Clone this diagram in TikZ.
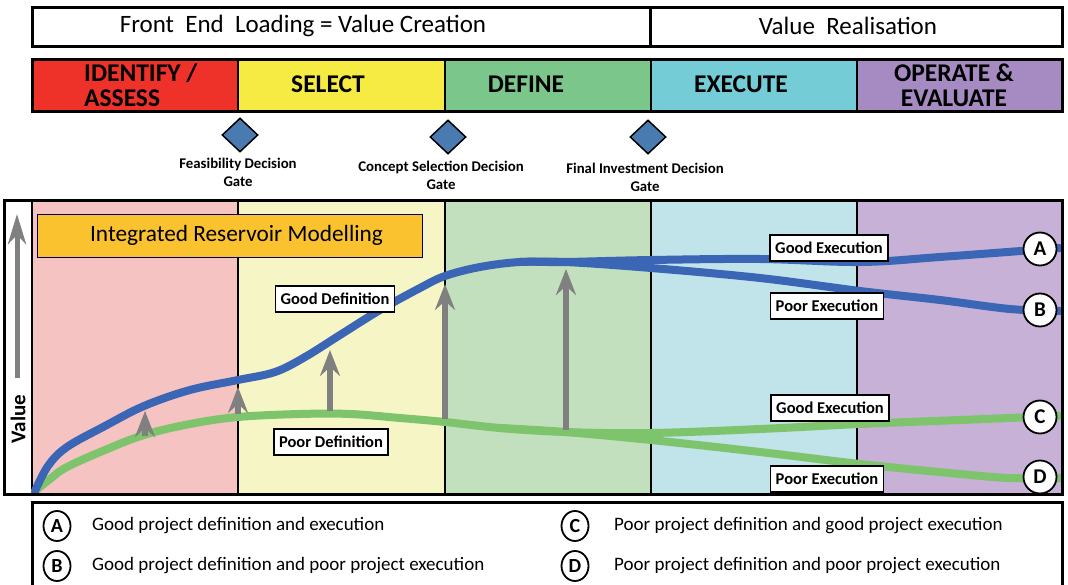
\documentclass[tikz,border=0pt]{standalone}
\usepackage{fontspec}
\setmainfont{Carlito}
\usetikzlibrary{arrows.meta,shapes.geometric}
\definecolor{phRed}{HTML}{EE3129}
\definecolor{phYel}{HTML}{F5EB42}
\definecolor{phGrn}{HTML}{7BC68A}
\definecolor{phCya}{HTML}{74CCD6}
\definecolor{phPur}{HTML}{A68BC3}
\definecolor{lRed}{HTML}{F5C3C2}
\definecolor{lYel}{HTML}{F6F5C5}
\definecolor{lGrn}{HTML}{C2E0BE}
\definecolor{lCya}{HTML}{C0E4E9}
\definecolor{lPur}{HTML}{C8B1D6}
\definecolor{curveBlue}{HTML}{3A66B5}
\definecolor{curveGreen}{HTML}{7DC46C}
\definecolor{gateBlue}{HTML}{4A7BB0}
\definecolor{irmOrange}{HTML}{FAC22E}
\definecolor{arrGray}{HTML}{808080}
\tikzset{
  frame/.style={draw=black,line width=3pt},
  phasetext/.style={font=\fontsize{25.5}{25}\selectfont\bfseries,align=center,inner sep=0pt},
  gate/.style={diamond,draw=black,line width=1.5pt,fill=gateBlue,minimum width=36pt,minimum height=34pt,inner sep=0pt},
  gatetext/.style={font=\fontsize{14.8}{18}\selectfont\bfseries,align=center,inner sep=0pt},
  bluecurve/.style={draw=curveBlue,line width=8pt,line cap=round,line join=round},
  greencurve/.style={draw=curveGreen,line width=8pt,line cap=round,line join=round},
  gainarrow/.style={draw=arrGray,line width=5.5pt,-{Stealth[length=26pt,width=20pt,inset=9pt]}},
  curvelabel/.style={draw=black,line width=1.5pt,fill=white,font=\fontsize{16.5}{18}\selectfont\bfseries,inner xsep=5pt,inner ysep=0pt,minimum height=26pt},
  endmark/.style={circle,draw=black,line width=1.8pt,fill=white,minimum size=33pt,inner sep=0pt,font=\fontsize{21}{22}\selectfont\bfseries},
  legmark/.style={ellipse,draw=black,line width=1.8pt,fill=white,minimum width=27pt,minimum height=30pt,inner sep=0pt,font=\fontsize{20}{20}\selectfont\bfseries},
  legtext/.style={anchor=west,font=\fontsize{19}{20}\selectfont,inner sep=0pt}
}
\begin{document}
\begin{tikzpicture}[x=1pt,y=-1pt]
\useasboundingbox (0,0) rectangle (1068,585);
% top banner
\draw[frame] (32,8) rectangle (650,47);
\draw[frame] (650,8) rectangle (1062,47);
\node[font=\fontsize{25}{26}\selectfont,inner sep=0pt] (fel) at (303,26) {Front\ \ End\ \ Loading = Value Creation};
\node[font=\fontsize{25}{26}\selectfont,inner sep=0pt] (vr) at (848,26) {Value\ \ Realisation};
% phase bar
\fill[phRed] (32,60) rectangle (238,112);
\fill[phYel] (238,60) rectangle (445,112);
\fill[phGrn] (445,60) rectangle (651,112);
\fill[phCya] (651,60) rectangle (857,112);
\fill[phPur] (857,60) rectangle (1062,112);
\foreach \xx in {238,445,651,857} \draw[line width=2pt] (\xx,60) -- (\xx,112);
\draw[frame] (32,60) rectangle (1062,112);
\node[phasetext,anchor=west,align=left] (pIdent) at (84,85) {IDENTIFY /\\ASSESS};
\node[phasetext] (pSel) at (328,84) {SELECT};
\node[phasetext] (pDef) at (526,84) {DEFINE};
\node[phasetext] (pExe) at (741,84) {EXECUTE};
\node[phasetext] (pOpe) at (954,85) {OPERATE \&\\EVALUATE};
% gates
\node[gate] (g1) at (240,135) {};
\node[gate] (g2) at (448,137) {};
\node[gate] (g3) at (648,137) {};
\node[gatetext] (g1t) at (238,172) {Feasibility Decision\\Gate};
\node[gatetext] (g2t) at (441,175) {Concept Selection Decision\\Gate};
\node[gatetext] (g3t) at (645,177) {Final Investment Decision\\Gate};
% chart backgrounds
\fill[lRed] (32,201) rectangle (238,494);
\fill[lYel] (238,201) rectangle (445,494);
\fill[lGrn] (445,201) rectangle (651,494);
\fill[lCya] (651,201) rectangle (857,494);
\fill[lPur] (857,201) rectangle (1062,494);
\fill[white] (4,201) rectangle (32,494);
\foreach \xx in {238,445,651,857} \draw[line width=1.5pt] (\xx,201) -- (\xx,494);
\draw[line width=2pt] (32,201) -- (32,494);
% IRM box
\node[draw=black!60!blue,line width=0.8pt,fill=irmOrange,minimum width=385pt,minimum height=43pt,inner sep=0pt] (irm) at (229.5,235.5) {};
\node[font=\fontsize{23.3}{24}\selectfont,inner sep=0pt] (irmt) at (236.5,235.5) {Integrated Reservoir Modelling};
% value axis
\coordinate (vaxB) at (17,378);
\coordinate (vaxT) at (17,214);
\draw[draw=arrGray,line width=5pt,-{Stealth[length=30pt,width=18pt,inset=9pt]}] (vaxB) -- (vaxT);
\node[rotate=90,font=\fontsize{21}{22}\selectfont\bfseries,inner sep=0pt] (vlab) at (18,419) {Value};
% curves
\draw[greencurve] plot[smooth,tension=0.6] coordinates {(35,491) (50,479) (67,467) (105,450) (144,435) (190,424) (238,417) (300,414) (350,414) (400,418) (445,422) (500,428) (565,432) (651,433) (760,429) (860,424) (960,420) (1060,416)};
\draw[greencurve] plot[smooth,tension=0.6] coordinates {(500,428) (565,432) (651,440) (760,452) (860,464) (960,474) (1010,478) (1060,478)};
\draw[bluecurve] plot[smooth,tension=0.6] coordinates {(35,491) (48,466) (67,447) (105,426) (144,406) (190,390) (238,380) (275,372) (305,357) (340,335) (380,310) (420,288) (445,276) (480,267) (520,262) (565,262) (651,260) (760,259) (860,262) (940,257) (1060,248)};
\draw[bluecurve] plot[smooth,tension=0.6] coordinates {(520,262) (565,262) (651,268) (760,278) (860,291) (940,300) (1010,309) (1060,311)};
% gain arrows
\coordinate (a1b) at (145,436); \coordinate (a1t) at (145,411);
\coordinate (a2b) at (238,414); \coordinate (a2t) at (238,387);
\coordinate (a3b) at (330,411); \coordinate (a3t) at (330,350);
\coordinate (a4b) at (445,419); \coordinate (a4t) at (445,284);
\coordinate (a5b) at (566,430); \coordinate (a5t) at (566,269);
\foreach \i in {1,...,5} \draw[gainarrow] (a\i b) -- (a\i t);
% curve labels
\node[curvelabel] (gdef) at (335,299) {Good Definition};
\node[curvelabel] (pdef) at (331,442) {Poor Definition};
\node[curvelabel] (gexA) at (829,248) {Good Execution};
\node[curvelabel] (pexB) at (827,306) {Poor Execution};
\node[curvelabel] (gexC) at (830,408) {Good Execution};
\node[curvelabel] (pexD) at (827,479) {Poor Execution};
% end markers
\node[endmark] (mA) at (1040,249) {A};
\node[endmark] (mB) at (1040,310) {B};
\node[endmark] (mC) at (1040,417) {C};
\node[endmark] (mD) at (1040,477) {D};
% chart frame
\draw[frame] (4,201) rectangle (1062,494);
% legend
\draw[frame] (32,502) rectangle (1062,592);
\node[legmark] (lA) at (57,526) {A};
\node[legmark] (lB) at (57,566) {B};
\node[legmark] (lC) at (575,526) {C};
\node[legmark] (lD) at (575,566) {D};
\node[legtext] (tA) at (92,526) {Good project definition and execution};
\node[legtext] (tB) at (92,566) {Good project definition and poor project execution};
\node[legtext] (tC) at (614,526) {Poor project definition and good project execution};
\node[legtext] (tD) at (614,566) {Poor project definition and poor project execution};
\end{tikzpicture}
\end{document}
